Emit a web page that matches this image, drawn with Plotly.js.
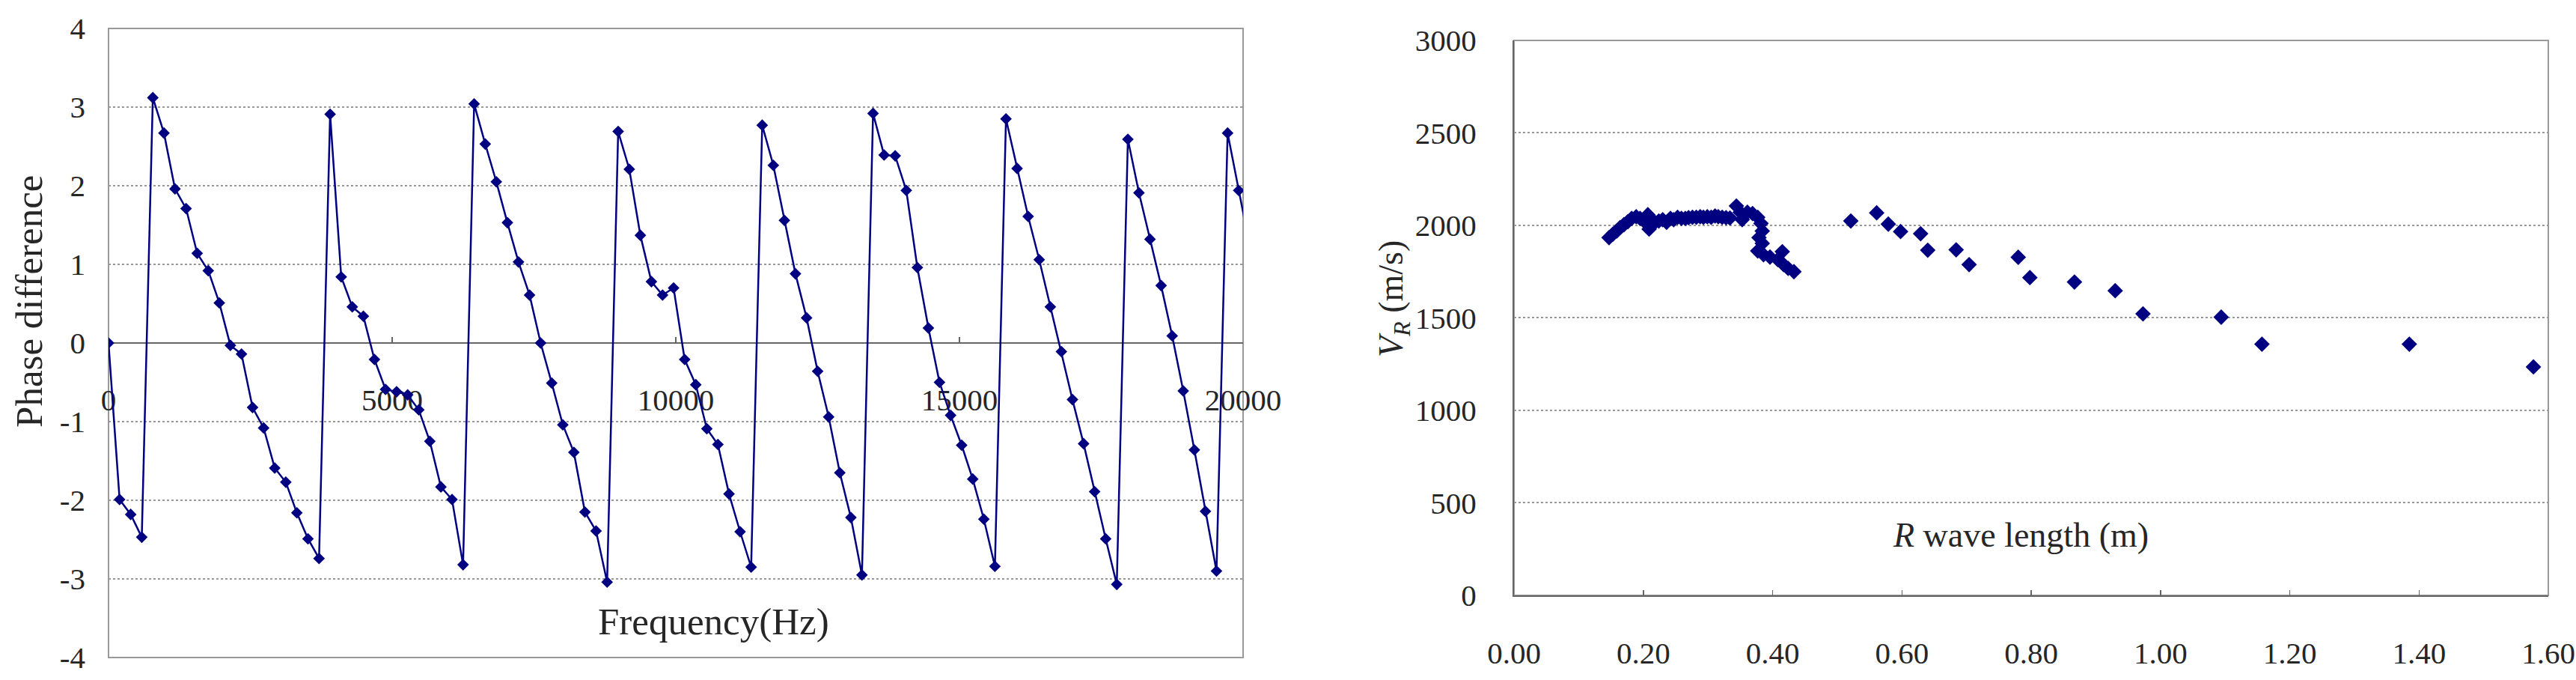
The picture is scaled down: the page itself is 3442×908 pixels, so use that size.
<!DOCTYPE html>
<html>
<head>
<meta charset="utf-8">
<script src="https://cdn.plot.ly/plotly-3.0.1.min.js"></script>
<style>html,body{margin:0;padding:0;background:#fff;}#chart{width:3442px;height:908px;}</style>
</head>
<body>
<div id="chart"></div>
<script>
// Left chart: phase difference vs frequency
const frequency = [0,195,391,586,781,977,1172,1367,1563,1758,1953,2148,2344,2539,2734,2930,3125,3320,3516,3711,
3906,4102,4297,4492,4688,4883,5078,5273,5469,5664,5859,6055,6250,6445,6641,6836,7031,7227,7422,7617,
7813,8008,8203,8398,8594,8789,8984,9180,9375,9570,9766,9961,10156,10352,10547,10742,10938,11133,11328,11523,
11719,11914,12109,12305,12500,12695,12891,13086,13281,13477,13672,13867,14063,14258,14453,14648,14844,15039,15234,15430,
15625,15820,16016,16211,16406,16602,16797,16992,17188,17383,17578,17773,17969,18164,18359,18555,18750,18945,19141,19336,
19531,19727,19922,20117];
const phaseDiff = [0.00,-1.99,-2.18,-2.47,3.12,2.67,1.96,1.71,1.14,0.92,0.51,-0.03,-0.14,-0.82,-1.08,-1.59,-1.77,-2.16,-2.49,-2.74,
2.91,0.84,0.46,0.34,-0.21,-0.59,-0.62,-0.66,-0.85,-1.25,-1.83,-1.99,-2.82,3.04,2.53,2.05,1.53,1.03,0.61,0.00,
-0.51,-1.04,-1.39,-2.15,-2.39,-3.04,2.69,2.21,1.37,0.78,0.61,0.70,-0.21,-0.53,-1.09,-1.29,-1.92,-2.40,-2.85,2.77,
2.26,1.56,0.88,0.32,-0.36,-0.94,-1.65,-2.22,-2.95,2.92,2.39,2.38,1.94,0.96,0.19,-0.50,-0.92,-1.30,-1.73,-2.24,
-2.84,2.85,2.22,1.61,1.06,0.46,-0.11,-0.72,-1.28,-1.89,-2.49,-3.07,2.59,1.91,1.32,0.73,0.09,-0.61,-1.36,-2.14,
-2.90,2.67,1.94,1.23];
const phaseTicks = [-4,-3,-2,-1,0,1,2,3,4];
const freqTicks = [0,5000,10000,15000,20000];

// Right chart: Rayleigh wave velocity vs wavelength
const wavelength = [0.147,0.153,0.159,0.164,0.170,0.176,0.182,0.189,0.195,0.201,0.207,0.209,0.212,0.218,0.224,0.230,0.236,0.242,0.247,0.253,
0.259,0.265,0.270,0.276,0.282,0.288,0.293,0.299,0.305,0.311,0.316,0.322,0.328,0.334,0.344,0.350,0.353,0.361,0.369,0.377,
0.382,0.384,0.379,0.384,0.377,0.386,0.396,0.415,0.408,0.417,0.424,0.433,0.521,0.561,0.579,0.598,0.629,0.640,0.684,0.704,
0.780,0.798,0.867,0.930,0.973,1.094,1.157,1.385,1.577];
const velocity = [1934,1953,1970,1988,2004,2020,2038,2047,2038,2024,2058,1980,2004,2017,2024,2031,2017,2038,2031,2044,
2038,2038,2042,2044,2044,2047,2044,2047,2044,2051,2047,2044,2042,2040,2105,2071,2031,2071,2064,2044,
2011,1970,1934,1903,1862,1842,1829,1858,1815,1788,1768,1750,2024,2068,2007,1967,1955,1866,1868,1788,
1828,1718,1694,1647,1522,1504,1358,1358,1235];
const velTicks = [0,500,1000,1500,2000,2500,3000];
const wlTicks = [0,0.2,0.4,0.6,0.8,1.0,1.2,1.4,1.6];

const navy = '#000080';
const serif = 'Liberation Serif, Times New Roman, serif';
const tickFont = {family: serif, size: 41, color: '#262626'};

const traces = [
  {x: frequency, y: phaseDiff, xaxis: 'x', yaxis: 'y', type: 'scatter', mode: 'lines+markers',
   line: {color: navy, width: 2.5}, marker: {symbol: 'diamond', size: 12, color: navy}, cliponaxis: true},
  {x: wavelength, y: velocity, xaxis: 'x2', yaxis: 'y2', type: 'scatter', mode: 'markers',
   marker: {symbol: 'diamond', size: 16, color: navy}}
];

const layout = {
  width: 3442, height: 908,
  margin: {l: 0, r: 0, t: 0, b: 0},
  paper_bgcolor: '#fff', plot_bgcolor: '#fff',
  showlegend: false,
  font: {family: serif},
  xaxis: {
    domain: [0.04213, 0.48257], range: [0, 20000], anchor: 'free', position: 0.4956,
    tickvals: freqTicks, ticktext: freqTicks.map(String),
    showgrid: false, zeroline: false,
    showline: true, linecolor: '#666', linewidth: 2,
    ticks: 'inside', ticklen: 7, tickwidth: 1.5, tickcolor: '#666',
    tickfont: tickFont, ticklabelstandoff: 40, layer: 'below traces'
  },
  yaxis: {
    domain: [0.03304, 0.95815], range: [-4, 4], anchor: 'x',
    tickvals: phaseTicks, ticktext: phaseTicks.map(String),
    showgrid: true, gridcolor: '#999', gridwidth: 2, griddash: 'dot',
    zeroline: false, showline: false, ticks: '',
    tickfont: tickFont, ticklabelstandoff: 30, layer: 'below traces'
  },
  xaxis2: {
    domain: [0.58774, 0.98925], range: [0, 1.6], anchor: 'y2',
    tickvals: wlTicks, ticktext: wlTicks.map(v => v.toFixed(2)),
    showgrid: false, zeroline: false,
    showline: true, linecolor: '#666', linewidth: 2,
    ticks: 'inside', ticklen: 7, tickwidth: 1.5, tickcolor: '#666',
    tickfont: tickFont, ticklabelstandoff: 40
  },
  yaxis2: {
    domain: [0.12445, 0.94053], range: [0, 3000], anchor: 'x2',
    tickvals: velTicks, ticktext: velTicks.map(String),
    showgrid: true, gridcolor: '#999', gridwidth: 2, griddash: 'dot',
    zeroline: false, showline: true, linecolor: '#666', linewidth: 2, ticks: '',
    tickfont: tickFont, ticklabelstandoff: 40
  },
  shapes: [
    {type: 'rect', xref: 'x domain', yref: 'y domain', x0: 0, x1: 1, y0: 0, y1: 1,
     line: {color: '#999', width: 2}, layer: 'below'},
    {type: 'rect', xref: 'x2 domain', yref: 'y2 domain', x0: 0, x1: 1, y0: 0, y1: 1,
     line: {color: '#999', width: 2}, layer: 'below'}
  ],
  annotations: [
    {text: 'Phase difference', xref: 'paper', yref: 'paper', x: 0.01133, y: 0.5573,
     textangle: -90, showarrow: false, xanchor: 'center', yanchor: 'middle',
     font: {family: serif, size: 51, color: '#262626'}},
    {text: 'Frequency(Hz)', xref: 'x', yref: 'y', x: 10660, y: -3.54,
     showarrow: false, xanchor: 'center', yanchor: 'middle',
     font: {family: serif, size: 51, color: '#262626'}},
    {text: '<i>V</i><sub><i>R</i></sub> (m/s)', xref: 'paper', yref: 'paper', x: 0.541, y: 0.5606,
     textangle: -90, showarrow: false, xanchor: 'center', yanchor: 'middle',
     font: {family: serif, size: 46, color: '#262626'}},
    {text: '<i>R</i> wave length (m)', xref: 'x2', yref: 'y2', x: 0.784, y: 324,
     showarrow: false, xanchor: 'center', yanchor: 'middle',
     font: {family: serif, size: 46, color: '#262626'}}
  ]
};

Plotly.newPlot('chart', traces, layout, {staticPlot: true, displayModeBar: false});
</script>
</body>
</html>
